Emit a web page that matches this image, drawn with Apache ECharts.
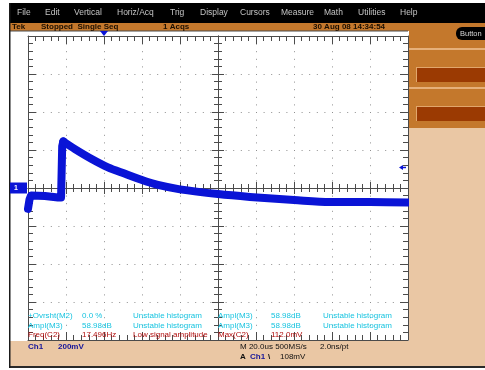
<!DOCTYPE html>
<html>
<head>
<meta charset="utf-8">
<script src="https://cdn.jsdelivr.net/npm/echarts@6/dist/echarts.min.js"></script>
<style>
  html, body { margin: 0; padding: 0; background: #ffffff; }
  #scope { width: 485px; height: 370px; }
</style>
</head>
<body>
<div id="scope"></div>
<script>
// Channel 1 record: time in µs relative to screen centre, amplitude in mV
const timeUs = [-100, -99.2, -98.4, -97.4, -91.1, -84.2, -82.6, -82.0, -81.4, -75.3, -66.5, -57.9, -48.9, -40, -31.6, -20, 0, 16.8, 40, 58.9, 80, 100];
const ch1mV  = [-110, -60, -40, -37, -42, -50, -50, 220, 245, 205, 153, 109, 75, 42, 16, -7, -32, -47, -63, -74, -74, -76];
// index of the pulse peak: the record is drawn as a sharp edge up to it and a smooth decay after it
const peakIndex = 8;

// Scale settings
const mvPerDiv = 200;
const usPerDiv = 20;
const triggerLevelMv = 108;
const triggerPosUs = -60;

// Menu bar
const menuItems = ['File', 'Edit', 'Vertical', 'Horiz/Acq', 'Trig', 'Display', 'Cursors', 'Measure', 'Math', 'Utilities', 'Help'];
const menuX = [17, 45, 74, 117, 170, 200, 240, 281, 324, 358, 400];

// Measurement readouts
const measLeft = [
  ['+Ovrsht(M2)', '0.0 %', 'Unstable histogram'],
  ['Ampl(M3)', '58.98dB', 'Unstable histogram'],
  ['Freq(C2)', '17.496Hz', 'Low signal amplitude']
];
const measRight = [
  ['Ampl(M3)', '58.98dB', 'Unstable histogram'],
  ['Ampl(M3)', '58.98dB', 'Unstable histogram'],
  ['Max(C2)', '112.0mV', '']
];

const GRID = { left: 28, top: 36, width: 380, height: 304 };
const AXIS_COLOR = '#4b4b4b';
const TRACE = '#0a14d6';
const FONT = 'Liberation Sans, Arial, sans-serif';

const chart = echarts.init(document.getElementById('scope'), null, { renderer: 'canvas' });

function edgeAxis(pos, split) {
  return {
    type: 'value',
    position: pos,
    axisLine: { show: true, onZero: false, lineStyle: { color: AXIS_COLOR, width: 1 } },
    axisTick: { show: true, inside: true, length: 8, lineStyle: { color: AXIS_COLOR } },
    minorTick: { show: true, splitNumber: 5, length: 5, lineStyle: { color: AXIS_COLOR } },
    axisLabel: { show: false },
    splitLine: { show: split, lineStyle: { color: '#8f8f8f', width: 1, type: [1, 6.6] } }
  };
}
function centerAxis(inside) {
  return {
    type: 'value',
    axisLine: { show: true, onZero: true, onZeroAxisIndex: 0, lineStyle: { color: AXIS_COLOR, width: 1 } },
    axisTick: { show: true, inside: inside, length: 6, lineStyle: { color: AXIS_COLOR } },
    minorTick: { show: true, splitNumber: 5, length: 4, lineStyle: { color: AXIS_COLOR } },
    axisLabel: { show: false },
    splitLine: { show: false }
  };
}

const xRange = { min: -5 * usPerDiv, max: 5 * usPerDiv, interval: usPerDiv };
const yRange = { min: -4 * mvPerDiv, max: 4 * mvPerDiv, interval: mvPerDiv };

const xAxes = [edgeAxis('bottom', true), edgeAxis('top', false), centerAxis(true), centerAxis(false)]
  .map((a, i) => Object.assign(a, xRange, i >= 2 ? { position: 'bottom' } : {}));
const yAxes = [edgeAxis('left', true), edgeAxis('right', false), centerAxis(true), centerAxis(false)]
  .map((a, i) => Object.assign(a, yRange, i >= 2 ? { position: 'left' } : {}));

const points = timeUs.map((t, i) => [t, ch1mV[i]]);
const traceStyle = { color: TRACE, width: 8, join: 'round', cap: 'round' };

chart.setOption({
  animation: false,
  backgroundColor: '#ffffff',
  grid: Object.assign({ show: false }, GRID),
  xAxis: xAxes,
  yAxis: yAxes,
  series: [{
    type: 'line',
    data: points.slice(0, peakIndex + 1),
    showSymbol: false,
    smooth: false,
    clip: true,
    lineStyle: traceStyle,
    z: 5
  }, {
    type: 'line',
    data: points.slice(peakIndex),
    showSymbol: false,
    smooth: 0.3,
    clip: true,
    lineStyle: traceStyle,
    z: 5
  }]
});

// ---- instrument frame drawn around the graticule ----
const zeroY = chart.convertToPixel({ yAxisIndex: 0 }, 0);
const trigY = chart.convertToPixel({ yAxisIndex: 0 }, triggerLevelMv);
const trigX = chart.convertToPixel({ xAxisIndex: 0 }, triggerPosUs);

function txt(x, y, s, color, size, weight, z) {
  return {
    type: 'text', x: x, y: y, z: z || 50,
    style: { text: s, fill: color, font: (weight || 'normal') + ' ' + (size || 8) + 'px ' + FONT, textVerticalAlign: 'middle' }
  };
}
function rect(x, y, w, h, fill, z) {
  return { type: 'rect', shape: { x: x, y: y, width: w, height: h }, style: { fill: fill }, z: z || 10 };
}

const g = [];
// menu bar
g.push(rect(9, 3, 476, 20, '#000000'));
menuItems.forEach((m, i) => g.push(txt(menuX[i], 13, m, '#c4c4c4', 8.5)));
// status bar
g.push(rect(9, 23, 476, 8, '#c4782c'));
g.push(txt(12, 27, 'Tek', '#1a0e00', 8, 'bold'));
g.push(txt(41, 27, 'Stopped  Single Seq', '#1a0e00', 8, 'bold'));
g.push(txt(163, 27, '1 Acqs', '#1a0e00', 8, 'bold'));
g.push(txt(313, 27, '30 Aug 08 14:34:54', '#1a0e00', 8, 'bold'));
g.push({ type: 'line', shape: { x1: 9, y1: 31, x2: 408, y2: 31 }, style: { stroke: AXIS_COLOR, lineWidth: 1 }, z: 12 });
// right side panel
g.push(rect(409, 31, 76, 310, '#eac7a4'));
g.push(rect(409, 23, 76, 25, '#c4782c'));
g.push(rect(409, 48, 76, 2, '#e6b07a'));
g.push(rect(409, 50, 76, 37, '#c4782c'));
g.push(rect(409, 87, 76, 2, '#e6b07a'));
g.push(rect(409, 89, 76, 39, '#c4782c'));
g.push(rect(416, 67, 69, 15, '#e1a66c', 11));
g.push(rect(417, 68, 68, 14, '#9b3a02', 12));
g.push(rect(416, 106, 69, 15, '#e1a66c', 11));
g.push(rect(417, 107, 68, 14, '#9b3a02', 12));
g.push({ type: 'rect', shape: { x: 456, y: 27, width: 40, height: 13, r: 6 }, style: { fill: '#000000' }, z: 12 });
g.push(txt(460, 34, 'Button', '#d8d8d8', 7.5, 'normal', 13));
// bottom readout panel
g.push(rect(9, 341, 476, 25, '#eac7a4'));
g.push(rect(9, 366, 476, 2, '#2a2a2a'));
g.push(rect(9, 3, 1.5, 365, '#1a1a1a', 14));
g.push(txt(28, 347, 'Ch1', '#14149a', 8, 'bold'));
g.push(txt(58, 347, '200mV', '#14149a', 8, 'bold'));
g.push(txt(240, 347, 'M 20.0us 500MS/s', '#101010', 8));
g.push(txt(320, 347, '2.0ns/pt', '#101010', 8));
g.push(txt(240, 357, 'A', '#101010', 8, 'bold'));
g.push(txt(250, 357, 'Ch1', '#14149a', 8, 'bold'));
g.push(txt(268, 357, '\\', '#101010', 8, 'bold'));
g.push(txt(280, 357, '108mV', '#101010', 8));
// measurement readouts inside graticule
const rowY = [316, 326, 335];
const colL = [28, 82, 133];
const colR = [218, 271, 323];
measLeft.forEach((row, r) => {
  const c = r === 2 ? '#b00c0c' : '#18c4e0';
  row.forEach((s, k) => { if (s) g.push(txt(colL[k], rowY[r], s, c, 8, 'normal', 60)); });
});
measRight.forEach((row, r) => {
  const c = r === 2 ? '#b00c0c' : '#18c4e0';
  row.forEach((s, k) => { if (s) g.push(txt(colR[k], rowY[r], s, c, 8, 'normal', 60)); });
});
// channel ground marker
g.push(rect(10, zeroY - 5.5, 17, 11, TRACE, 20));
g.push(txt(14, zeroY, '1', '#ffffff', 7, 'bold', 21));
// trigger level marker
g.push({ type: 'line', shape: { x1: 401, y1: trigY, x2: 406, y2: trigY }, style: { stroke: TRACE, lineWidth: 1.5 }, z: 20 });
g.push({ type: 'polygon', shape: { points: [[399, trigY], [403, trigY - 2.5], [403, trigY + 2.5]] }, style: { fill: TRACE }, z: 20 });
// trigger position marker
g.push({ type: 'polygon', shape: { points: [[trigX - 4, 31], [trigX + 4, 31], [trigX, 36]] }, style: { fill: TRACE }, z: 20 });

chart.setOption({ graphic: g });
</script>
</body>
</html>
